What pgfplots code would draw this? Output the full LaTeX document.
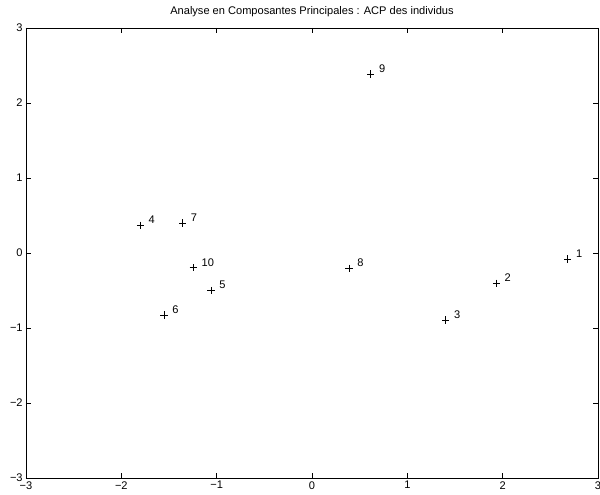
\documentclass[border=0pt]{standalone}
\usepackage{pgfplots}
\pgfplotsset{compat=1.18}
\usepackage{fontspec}
\setmainfont{Liberation Sans}
\begin{document}
\begin{tikzpicture}[x=1pt,y=1pt]
\path[use as bounding box] (-19.5,-12.75) rectangle (430.5,358.5);
\begin{axis}[
  at={(0,0)}, anchor=south west,
  scale only axis,
  width=429pt, height=337.5pt,
  xmin=-3, xmax=3, ymin=-3, ymax=3,
  xtick={-3,-2,-1,0,1,2,3},
  xticklabels={−3,−2,−1,0,1,2,3},
  ytick={-3,-2,-1,0,1,2,3},
  yticklabels={−3,−2,−1,0,1,2,3},
  tick align=inside,
  major tick length=4pt,
  axis line style={line width=0.7pt},
  tick style={line width=0.5pt, black},
  tick label style={font=\fontsize{8.3}{10}\selectfont},
  xticklabel style={yshift=1pt},
  yticklabel style={xshift=1pt},
  title={Analyse en Composantes Principales : ACP des individus},
  title style={font=\fontsize{8.3}{10}\selectfont, at={(0.5,1)}, anchor=south, inner sep=0pt, yshift=8pt},
  every axis title shift=0pt,
]
\addplot[only marks, mark=+, mark size=2.7pt, mark options={line width=0.5pt, black},
  nodes near coords, point meta=explicit symbolic,
  every node near coord/.style={anchor=west, inner sep=0pt, xshift=6pt, yshift=4pt, font=\fontsize{8.3}{10}\selectfont, black}]
  table[meta=lab] {
x y lab
2.683 -0.08 1
1.934 -0.404 2
1.403 -0.893 3
-1.80 0.37 4
-1.06 -0.50 5
-1.553 -0.827 6
-1.357 0.40 7
0.388 -0.204 8
0.616 2.387 9
-1.245 -0.196 10
};
\end{axis}
\end{tikzpicture}
\end{document}
